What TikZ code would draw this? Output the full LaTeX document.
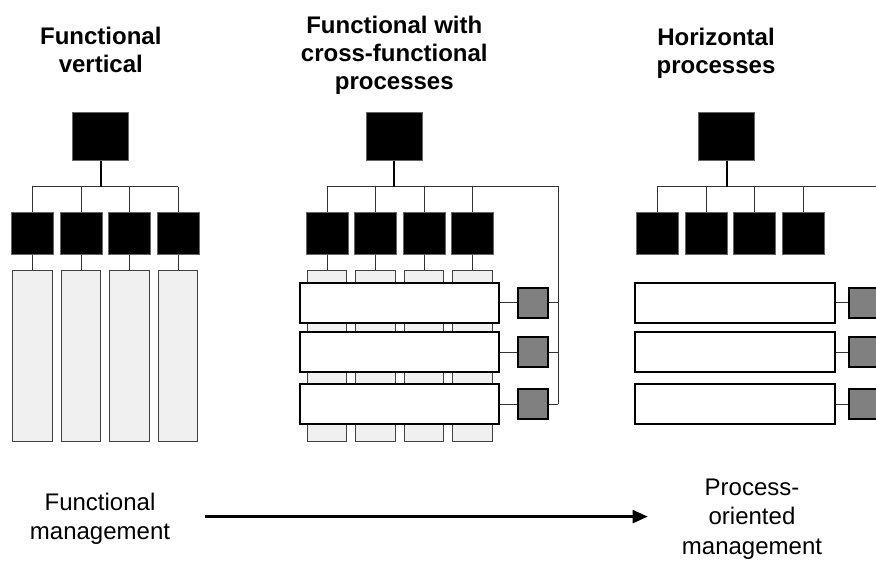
\documentclass[tikz,border=0pt]{standalone}
\usepackage{fontspec}
\setmainfont{Liberation Sans}
\usetikzlibrary{arrows.meta}
\begin{document}
\begin{tikzpicture}[x=1pt,y=-1pt,
  boss/.style={draw=black!60,line width=0.6pt,fill=black,minimum width=55.6pt,minimum height=47.6pt,inner sep=0pt},
  dept/.style={draw=black!60,line width=0.6pt,fill=black,minimum width=41.6pt,minimum height=41.6pt,inner sep=0pt},
  col/.style={draw=black!75,line width=0.9pt,fill=black!6,minimum width=39.6pt,minimum height=171.7pt,inner sep=0pt},
  bar/.style={draw=black,line width=2pt,fill=white,minimum width=199.6pt,minimum height=39.7pt,inner sep=0pt},
  owner/.style={draw=black,line width=2pt,fill=black!50,minimum width=30.6pt,minimum height=30.3pt,inner sep=0pt},
  link/.style={draw=black!80,line width=1pt},
  stem/.style={draw=black,line width=2pt},
  title/.style={font=\bfseries\fontsize{24}{27.7}\selectfont,align=center,inner sep=0pt,anchor=north},
  caption/.style={font=\fontsize{24}{29.3}\selectfont,align=center,inner sep=0pt,anchor=north},
]
\useasboundingbox (0,0) rectangle (876,560);
\clip (0,0) rectangle (876,560);
\fill[white] (0,0) rectangle (876,560);

% ---------- titles ----------
\node[title] (tL) at (100.8,27.3) {Functional\\vertical};
\node[title] (tM) at (394.3,16.4) {Functional with\\cross-functional\\processes};
\node[title] (tR) at (716,27.8) {Horizontal\\processes};

% ---------- left panel ----------
\node[boss] (L0) at (100.5,136.5) {};
\coordinate (Lbus) at (100.5,186.7);
\foreach \i/\x in {1/32.3,2/81,3/129.5,4/178}{
  \node[col] (LC\i) at (\x,355.85) {};
  \node[dept] (L\i) at (\x,233.5) {};
  \draw[link] (L\i.north |- Lbus) -- (L\i.north);
  \draw[link] (L\i.south) -- (LC\i.north);
}
\draw[link] (L1.north |- Lbus) -- (L4.north |- Lbus);
\draw[stem] (L0.south) -- (Lbus);

% ---------- middle panel ----------
\node[boss] (M0) at (394.3,136.5) {};
\coordinate (Mbus) at (394.3,186.7);
\coordinate (Mright) at (558.3,186.7);
\foreach \i/\x in {1/327,2/375.3,3/424,4/472.5}{
  \node[col] (MC\i) at (\x,355.85) {};
  \node[dept] (M\i) at (\x,233.5) {};
  \draw[link] (M\i.north |- Mbus) -- (M\i.north);
  \draw[link] (M\i.south) -- (MC\i.north);
}
\foreach \k/\y in {1/302.9,2/352.3,3/404.1}{
  \node[bar] (MB\k) at (399.5,\y) {};
  \node[owner] (MO\k) at (533,\y) {};
  \draw[link] (MB\k.east) -- (MO\k.west);
  \draw[link] (MO\k.east) -- (MO\k.east -| Mright);
}
\draw[link] (M1.north |- Mbus) -- (Mright) -- (Mright |- MO3.east);
\draw[stem] (M0.south) -- (Mbus);

% ---------- right panel ----------
\node[boss] (R0) at (726.5,136.5) {};
\coordinate (Rbus) at (726.5,186.7);
\coordinate (Rright) at (890.6,186.7);
\foreach \i/\x in {1/657.2,2/706,3/754.5,4/803}{
  \node[dept] (R\i) at (\x,233.5) {};
  \draw[link] (R\i.north |- Rbus) -- (R\i.north);
}
\foreach \k/\y in {1/302.9,2/352.3,3/404.1}{
  \node[bar] (RB\k) at (734.7,\y) {};
  \node[owner] (RO\k) at (864.6,\y) {};
  \draw[link] (RB\k.east) -- (RO\k.west);
  \draw[link] (RO\k.east) -- (RO\k.east -| Rright);
}
\draw[link] (R1.north |- Rbus) -- (Rright) -- (Rright |- RO3.east);
\draw[stem] (R0.south) -- (Rbus);

% ---------- bottom ----------
\node[caption] (fm) at (100,492.8) {Functional\\management};
\node[caption] (pm) at (752,478.8) {Process-\\oriented\\management};
\coordinate (A1) at (205,516.6);
\coordinate (A2) at (647.7,516.6);
\draw[line width=2.3pt,-{Triangle[length=15pt,width=13pt]}] (A1) -- (A2);
\end{tikzpicture}
\end{document}
